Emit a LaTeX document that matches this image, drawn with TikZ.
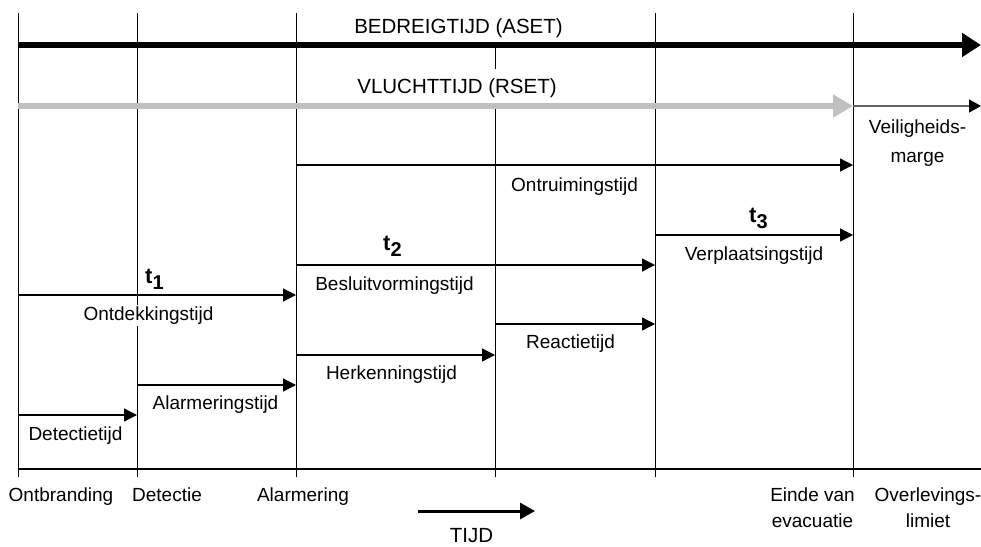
\documentclass[tikz,border=0pt]{standalone}
\usepackage{fontspec}
\setmainfont{Liberation Sans}
\usetikzlibrary{calc,arrows.meta}
\definecolor{grijs}{RGB}{192,192,192}
\definecolor{marge}{RGB}{100,100,100}
\newcommand{\tfase}[1]{{\fontsize{22}{22}\selectfont\bfseries t}\raisebox{-6pt}{\fontsize{20}{20}\selectfont\bfseries #1}}

\begin{document}
\begin{tikzpicture}[x=1pt,y=-1pt]
       \tikzstyle{tekst} = [font=\fontsize{19}{25.5}\selectfont, anchor=base, inner sep=2pt, fill=white, align=center];
       \tikzstyle{kop} = [font=\fontsize{20.5}{24}\selectfont, anchor=base, inner sep=1pt, fill=white];
       \tikzstyle{pijl} = [-{Triangle[length=13pt,width=13pt]}, line width=1.3pt];
       \tikzstyle{lijn} = [line width=1pt];
       \useasboundingbox (0,0) rectangle (981,546);

       % tijdstippen op de as
       \coordinate (ontb) at (18,469);
       \coordinate (det) at (137,469);
       \coordinate (alarm) at (296,469);
       \coordinate (reac) at (495,469);
       \coordinate (besl) at (655,469);
       \coordinate (einde) at (853,469);
       \coordinate (eind) at (981,469);

       % verticale lijnen en tijdas
       \foreach \p in {ontb,det,alarm,besl,einde}
         \draw[lijn] ($(\p)+(0,8)$) -- (\p |- 0,13);
       \draw[lijn] ($(reac)+(0,8)$) -- (reac |- 0,45);
       \draw[line width=1.3pt] (ontb) -- (eind);

       % teksten
       \node[kop] (aset) at (458.5,33) {BEDREIGTIJD (ASET)};
       \node[kop, inner ysep=9pt] (rset) at (457,93) {VLUCHTTIJD (RSET)};
       \node[tekst] (veilig) at (917.5,162) {Veiligheids-\\[3.5pt]marge};
       \node[tekst] (ontruim) at (574.5,191) {Ontruimingstijd};
       \node[tekst] (verpl) at (754,260) {Verplaatsingstijd};
       \node[tekst] (besluit) at (394.5,290.5) {Besluitvormingstijd};
       \node[tekst] (ontdek) at (148.5,320.5) {Ontdekkingstijd};
       \node[tekst] (reactie) at (570.5,348) {Reactietijd};
       \node[tekst] (herken) at (391.5,379) {Herkenningstijd};
       \node[tekst] (alarmt) at (215.5,409) {Alarmeringstijd};
       \node[tekst] (dett) at (75.5,440) {Detectietijd};
       \node[anchor=base west, inner sep=0pt] (t1) at (145,283) {\tfase{1}};
       \node[anchor=base west, inner sep=0pt] (t2) at (383,250) {\tfase{2}};
       \node[anchor=base west, inner sep=0pt] (t3) at (749,222) {\tfase{3}};

       % onder de as
       \node[tekst] (ontbranding) at (61,501.5) {Ontbranding};
       \node[tekst] (detectie) at (167,501.5) {Detectie};
       \node[tekst] (alarmering) at (303,501.5) {Alarmering};
       \node[tekst] (evacuatie) at (812.5,527) {Einde van\\evacuatie};
       \node[tekst] (overleving) at (928,527) {Overlevings-\\limiet};
       \node[kop] (tijd) at (471.5,542) {TIJD};

       % pijlen
       \draw[line width=6pt, -{Triangle[length=19pt,width=23pt]}] (ontb |- 0,45) -- (eind |- 0,45);
       \draw[line width=5.5pt, draw=grijs, -{Triangle[length=20pt,width=22pt]}] (ontb |- 0,106) -- (einde |- 0,106);
       \draw[line width=1.3pt, draw=marge, -{Triangle[length=12pt,width=13pt,color=black]}] (einde |- 0,106) -- (eind |- 0,106);
       \foreach \a/\b/\y in {alarm/einde/165, besl/einde/235, alarm/besl/265, ontb/alarm/295,
                             reac/besl/324, alarm/reac/355, det/alarm/385, ontb/det/415}
         \draw[pijl] (\a |- 0,\y) -- (\b |- 0,\y);
       \coordinate (tijd0) at (418,511);
       \coordinate (tijd1) at (535,511);
       \draw[line width=3pt, -{Triangle[length=15pt,width=16pt]}] (tijd0) -- (tijd1);
\end{tikzpicture}
\end{document}
